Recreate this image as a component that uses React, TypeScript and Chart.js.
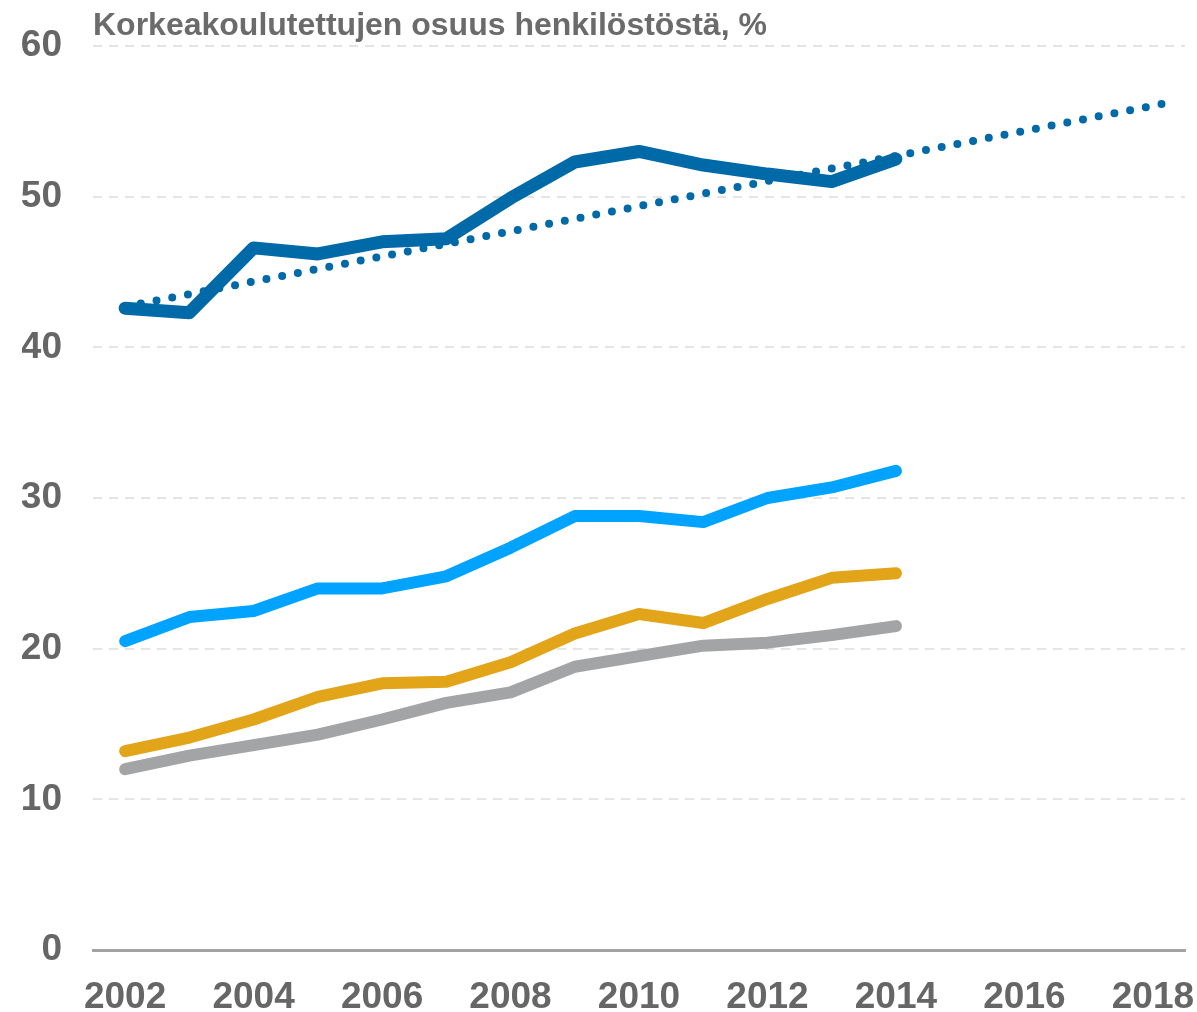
import React, { useEffect, useRef } from "react";
import { Chart, registerables } from "chart.js";

Chart.register(...registerables);

const TITLE = "Korkeakoulutettujen osuus henkilöstöstä, %";
const years = ["2002", "2003", "2004", "2005", "2006", "2007", "2008", "2009", "2010", "2011", "2012", "2013", "2014", "2015", "2016", "2017", "2018"];
const darkBlue = [42.6, 42.3, 46.6, 46.2, 47.0, 47.2, 49.9, 52.3, 53.0, 52.1, 51.5, 51.0, 52.5];
const trendX = [2002, 2018.2];
const trendY = [42.7, 56.2];
const lightBlue = [20.5, 22.1, 22.5, 24.0, 24.0, 24.8, 26.7, 28.8, 28.8, 28.4, 30.0, 30.7, 31.8];
const orange = [13.2, 14.1, 15.3, 16.8, 17.7, 17.8, 19.1, 21.0, 22.3, 21.7, 23.3, 24.7, 25.0];
const gray = [12.0, 12.9, 13.6, 14.3, 15.3, 16.4, 17.1, 18.8, 19.5, 20.2, 20.4, 20.9, 21.5];
const yTicks = [0, 10, 20, 30, 40, 50, 60];

const FONT = "'Liberation Sans', Arial, sans-serif";

const titlePlugin = {
  id: "customTitle",
  afterDraw(chart: any) {
    const ctx = chart.ctx;
    ctx.save();
    ctx.font = `bold 32px ${FONT}`;
    ctx.fillStyle = "#6b6b6b";
    ctx.textAlign = "left";
    ctx.textBaseline = "alphabetic";
    ctx.fillText(TITLE, chart.chartArea.left, 35);
    ctx.restore();
  },
};

export default function App() {
  const ref = useRef<HTMLCanvasElement | null>(null);
  useEffect(() => {
    if (!ref.current) return;
    const line = (data: any[], color: string, width: number, extra: any = {}) => ({
      data,
      borderColor: color,
      backgroundColor: color,
      borderWidth: width,
      pointRadius: 0,
      borderCapStyle: "round",
      borderJoinStyle: "round",
      tension: 0,
      fill: false,
      ...extra,
    });
    const chart = new Chart(ref.current, {
      type: "line",
      data: {
        labels: years,
        datasets: [
          line(
            trendX.map((x, i) => ({ x, y: trendY[i] })),
            "#0069a8",
            8,
            { borderDash: [0, 16], xAxisID: "xt" }
          ),
          line(gray, "#a3a4a6", 12),
          line(orange, "#e2a418", 12),
          line(lightBlue, "#00a3ff", 12),
          line(darkBlue, "#0069a8", 13),
        ],
      },
      plugins: [titlePlugin],
      options: {
        animation: false,
        responsive: false,
        maintainAspectRatio: false,
        layout: { padding: { left: 22, right: 12, top: 46, bottom: 0 } },
        plugins: { legend: { display: false }, tooltip: { enabled: false }, title: { display: false } },
        scales: {
          x: {
            offset: true,
            grid: { display: false, drawTicks: false },
            border: { display: true, color: "#a3a3a3", width: 3 },
            afterFit: (axis: any) => {
              axis.height = 62;
              axis.paddingLeft = 0;
              axis.paddingRight = 0;
            },
            ticks: {
              color: "#666666",
              font: { family: FONT, size: 37, weight: "bold", lineHeight: 1 },
              padding: 29,
              maxRotation: 0,
              minRotation: 0,
              autoSkip: false,
              callback: (_v: any, i: number) => (i % 2 === 0 ? years[i] : null),
            },
          },
          xt: {
            type: "linear",
            display: false,
            min: 2001.5,
            max: 2018.5,
          },
          y: {
            min: 0,
            max: 60,
            afterBuildTicks: (axis: any) => {
              axis.ticks = yTicks.map((v) => ({ value: v }));
            },
            afterFit: (axis: any) => {
              axis.width = 71;
              axis.paddingTop = 0;
              axis.paddingBottom = 0;
            },
            grid: { color: "#e4e4e4", lineWidth: 2, drawTicks: false },
            border: { display: false, dash: [9, 7] },
            ticks: {
              color: "#666666",
              font: { family: FONT, size: 37, weight: "bold", lineHeight: 1 },
              padding: 31,
            },
          },
        },
      },
    });
    return () => chart.destroy();
  }, []);
  return (
    <div style={{ position: "fixed", left: 0, top: 0, width: 1197, height: 1012, background: "#fff" }}>
      <canvas ref={ref} width={1197} height={1012} style={{ width: 1197, height: 1012 }} />
    </div>
  );
}
